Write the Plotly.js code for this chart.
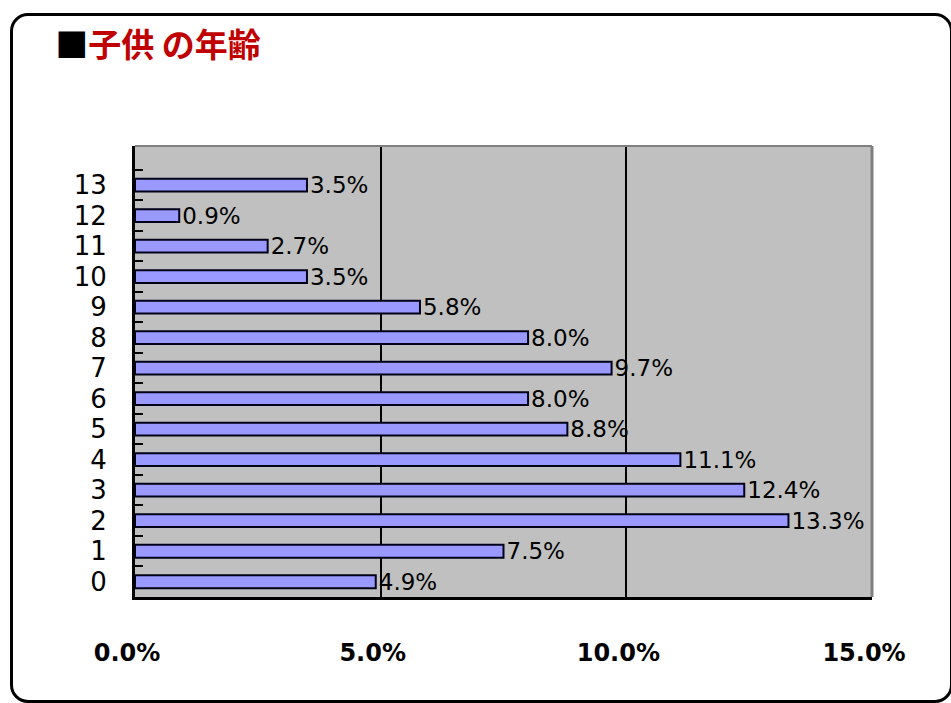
<!DOCTYPE html>
<html>
<head>
<meta charset="utf-8">
<script src="https://cdn.plot.ly/plotly-3.0.1.min.js"></script>
<style>
  html, body { margin: 0; padding: 0; background: #ffffff; }
  #wrap { position: relative; width: 951px; height: 703px; overflow: hidden; }
  #chart { position: absolute; left: 0; top: 0; width: 951px; height: 703px; }
  #frame { position: absolute; left: 10px; top: 13px; width: 937px; height: 684px;
           border: 3px solid #000; border-radius: 18px; pointer-events: none; }
</style>
</head>
<body>
<div id="wrap">
  <div id="chart"></div>
  <div id="frame"></div>
</div>
<script>
// Data
const ages = ['0','1','2','3','4','5','6','7','8','9','10','11','12','13'];
const shares = [4.9, 7.5, 13.3, 12.4, 11.1, 8.8, 8.0, 9.7, 8.0, 5.8, 3.5, 2.7, 0.9, 3.5];
const xTickVals = [0, 5, 10, 15];
const xTickText = ['0.0%', '5.0%', '10.0%', '15.0%'];
const titleText = '<span style="color:#000000">■</span>子供 の年齢';

const trace = {
  type: 'bar',
  orientation: 'h',
  x: shares,
  y: ages,
  width: 0.42,
  marker: { color: '#9999ff', line: { color: '#000018', width: 2 } },
  texttemplate: '%{x:.1f}%',
  textposition: 'outside',
  constraintext: 'none',
  cliponaxis: false,
  textfont: { family: 'DejaVu Sans, sans-serif', size: 23, color: '#000000' },
  hoverinfo: 'skip'
};

const layout = {
  width: 951,
  height: 703,
  margin: { l: 135, r: 79, t: 146, b: 106 },
  paper_bgcolor: '#ffffff',
  plot_bgcolor: '#c0c0c0',
  showlegend: false,
  title: {
    text: titleText,
    font: { family: 'Noto Sans CJK JP, sans-serif', size: 33, color: '#c00000', weight: 'bold' },
    x: 0.058, xref: 'container', xanchor: 'left',
    y: 0.935, yref: 'container', yanchor: 'middle'
  },
  xaxis: {
    range: [0, 15],
    tickmode: 'array',
    tickvals: xTickVals,
    ticktext: xTickText,
    showgrid: true,
    gridcolor: '#000000',
    gridwidth: 2,
    zeroline: false,
    showline: true,
    linecolor: '#000000',
    linewidth: 3,
    ticks: '',
    ticklabelstandoff: 32,
    ticklabelshift: -8,
    tickfont: { family: 'DejaVu Sans, sans-serif', size: 24, color: '#000000', weight: 'bold' },
    fixedrange: true
  },
  yaxis: {
    type: 'category',
    categoryorder: 'array',
    categoryarray: ages,
    range: [-0.5, 14.28],
    tickmode: 'linear',
    tick0: 0,
    dtick: 1,
    showgrid: false,
    zeroline: false,
    showline: true,
    linecolor: '#000000',
    linewidth: 3,
    ticks: 'inside',
    tickson: 'boundaries',
    ticklen: 8,
    tickwidth: 2,
    tickcolor: '#000000',
    ticklabelstandoff: 20,
    tickfont: { family: 'DejaVu Sans, sans-serif', size: 26, color: '#000000' },
    fixedrange: true
  },
  shapes: [
    { type: 'line', xref: 'paper', yref: 'paper', x0: 0, x1: 1, y0: 1, y1: 1,
      line: { color: '#808080', width: 2 }, layer: 'above' },
    { type: 'line', xref: 'paper', yref: 'paper', x0: 1, x1: 1, y0: 0, y1: 1,
      line: { color: '#808080', width: 3 }, layer: 'above' }
  ]
};

Plotly.newPlot('chart', [trace], layout, { displayModeBar: false, staticPlot: true });
</script>
</body>
</html>
